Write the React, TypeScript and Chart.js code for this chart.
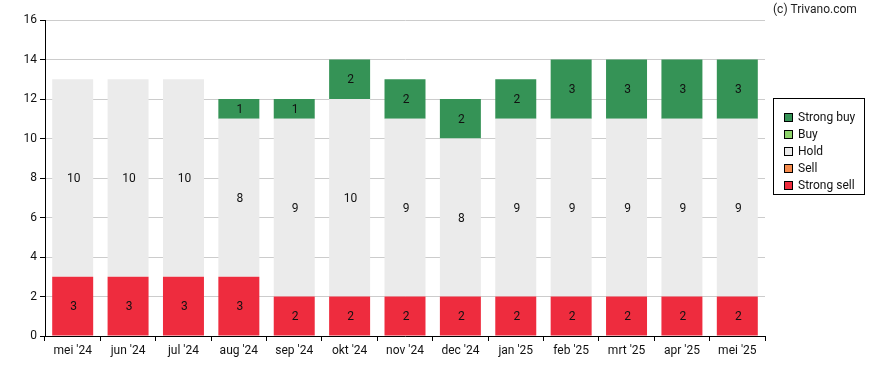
import React, { useEffect, useRef } from "react";
import { Chart, registerables } from "chart.js";

Chart.register(...registerables);

const categories = ["mei '24", "jun '24", "jul '24", "aug '24", "sep '24", "okt '24", "nov '24", "dec '24", "jan '25", "feb '25", "mrt '25", "apr '25", "mei '25"];
const strongSell = [3, 3, 3, 3, 2, 2, 2, 2, 2, 2, 2, 2, 2];
const sell = [0, 0, 0, 0, 0, 0, 0, 0, 0, 0, 0, 0, 0];
const hold = [10, 10, 10, 8, 9, 10, 9, 8, 9, 9, 9, 9, 9];
const buy = [0, 0, 0, 0, 0, 0, 0, 0, 0, 0, 0, 0, 0];
const strongBuy = [0, 0, 0, 1, 1, 2, 2, 2, 2, 3, 3, 3, 3];
const seriesNames = ["Strong sell", "Sell", "Hold", "Buy", "Strong buy"];
const seriesColors = ["#EE2C3E", "#F58B4C", "#EBEBEB", "#8ED46B", "#359356"];
const yMax = 16;
const yStep = 2;
const credit = "(c) Trivano.com";

const FONT = "Roboto, 'Noto Sans', sans-serif";

const labelPlugin = {
  id: "barLabels",
  afterDatasetsDraw(chart: any) {
    const ctx = chart.ctx;
    ctx.save();
    ctx.font = `12px ${FONT}`;
    ctx.fillStyle = "#111";
    ctx.textAlign = "center";
    ctx.textBaseline = "middle";
    chart.data.datasets.forEach((ds: any, i: number) => {
      const meta = chart.getDatasetMeta(i);
      meta.data.forEach((el: any, j: number) => {
        const v = ds.data[j];
        if (!v) return;
        ctx.fillText(String(v), el.x + 1, (el.y + el.base) / 2 + 1);
      });
    });
    ctx.restore();
  },
};

const legendPlugin = {
  id: "customLegend",
  afterDraw(chart: any) {
    const ctx = chart.ctx;
    ctx.save();
    const left = 773.5;
    const top = 98.5;
    const w = 91;
    const h = 96;
    ctx.fillStyle = "#fff";
    ctx.fillRect(left, top, w, h);
    ctx.strokeStyle = "#000";
    ctx.lineWidth = 1;
    ctx.strokeRect(left, top, w, h);
    ctx.font = `12px ${FONT}`;
    ctx.textBaseline = "middle";
    ctx.textAlign = "left";
    const order = [4, 3, 2, 1, 0];
    order.forEach((idx, k) => {
      const cy = 116.5 + k * 17.2;
      ctx.fillStyle = seriesColors[idx];
      ctx.fillRect(784.5, Math.round(cy - 4) + 0.5, 8, 8);
      ctx.strokeStyle = "#000";
      ctx.strokeRect(784.5, Math.round(cy - 4) + 0.5, 8, 8);
      ctx.fillStyle = "#111";
      ctx.fillText(seriesNames[idx], 798, cy + 1);
    });
    ctx.font = `12px ${FONT}`;
    ctx.textAlign = "left";
    ctx.fillStyle = "#222";
    ctx.fillText(credit, 773, 10);
    ctx.restore();
  },
};

export default function App() {
  const ref = useRef<HTMLCanvasElement | null>(null);
  useEffect(() => {
    if (!ref.current) return;
    const data = [strongSell, sell, hold, buy, strongBuy];
    const chart = new Chart(ref.current, {
      type: "bar",
      data: {
        labels: categories,
        datasets: data.map((d, i) => ({
          label: seriesNames[i],
          data: d,
          backgroundColor: seriesColors[i],
          borderWidth: 0,
          barPercentage: 1,
          categoryPercentage: 0.74,
        })),
      },
      options: {
        responsive: false,
        animation: false,
        maintainAspectRatio: false,
        layout: { padding: { left: 0, top: 20, right: 123, bottom: 0 } },
        plugins: { legend: { display: false }, tooltip: { enabled: false } },
        scales: {
          x: {
            stacked: true,
            grid: { drawOnChartArea: false, drawTicks: true, tickLength: 5, tickColor: "#000" },
            border: { color: "#000", width: 1 },
            ticks: { color: "#111", font: { family: FONT, size: 12 }, padding: 3, maxRotation: 0 },
            afterFit: (s: any) => { s.height = 34; },
          },
          y: {
            stacked: true,
            min: 0,
            max: yMax,
            grid: { color: "#CCCCCC", tickColor: "#000", tickLength: 5 },
            border: { color: "#000", width: 1 },
            ticks: { stepSize: yStep, color: "#111", font: { family: FONT, size: 12 }, padding: 3 },
            afterFit: (s: any) => { s.width = 45; },
          },
        },
      },
      plugins: [labelPlugin, legendPlugin],
    });
    return () => chart.destroy();
  }, []);
  return (
    <div style={{ position: "fixed", left: 0, top: 0, width: 888, height: 370, background: "#fff" }}>
      <canvas ref={ref} width={888} height={370} style={{ width: 888, height: 370 }} />
    </div>
  );
}
